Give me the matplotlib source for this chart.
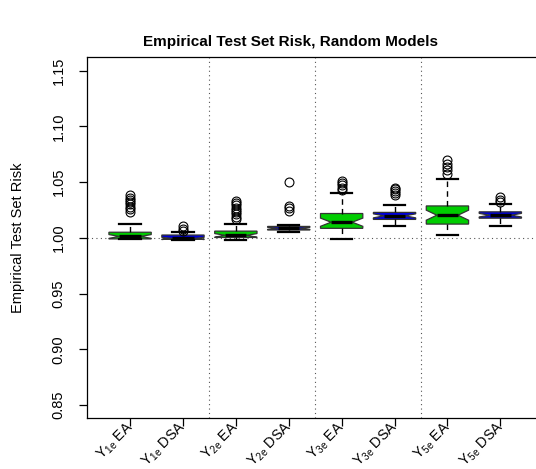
import matplotlib
matplotlib.use('Agg')
import matplotlib.pyplot as plt
from matplotlib.transforms import blended_transform_factory

plt.rcParams['font.family'] = ['Liberation Sans', 'DejaVu Sans']
plt.rcParams['mathtext.default'] = 'regular'

# ---- data ----
group_names = ['1e', '1e', '2e', '2e', '3e', '3e', '5e', '5e']
method_names = ['EA', 'DSA', 'EA', 'DSA', 'EA', 'DSA', 'EA', 'DSA']
whisker_low = [0.9985, 0.9982, 0.9982, 1.0050, 0.9985, 1.0107, 1.0024, 1.0107]
quart1 = [0.9990, 0.9988, 1.0003, 1.0070, 1.0085, 1.0165, 1.0123, 1.0176]
medians = [1.0012, 0.9994, 1.0022, 1.0085, 1.0140, 1.0197, 1.0203, 1.0203]
quart3 = [1.0050, 1.0025, 1.0060, 1.0102, 1.0218, 1.0228, 1.0286, 1.0233]
whisker_high = [1.0120, 1.0055, 1.0128, 1.0116, 1.0405, 1.0295, 1.0531, 1.0300]
notch_low = [0.9995, 0.9984, 1.0006, 1.0076, 1.0103, 1.0179, 1.0158, 1.0187]
notch_high = [1.0029, 1.0004, 1.0038, 1.0094, 1.0177, 1.0215, 1.0248, 1.0219]
outliers = [
    [1.023, 1.026, 1.028, 1.030, 1.032, 1.034, 1.036, 1.038],
    [1.0065, 1.0075, 1.0110],
    [1.0165, 1.019, 1.021, 1.023, 1.025, 1.027, 1.029, 1.031, 1.033],
    [1.0245, 1.0265, 1.0285, 1.0500],
    [1.043, 1.045, 1.047, 1.049, 1.051],
    [1.038, 1.0405, 1.042, 1.0435, 1.045],
    [1.0575, 1.0605, 1.0635, 1.0665, 1.0695],
    [1.032, 1.034, 1.0365],
]
method_colors = {'EA': '#00CD00', 'DSA': '#0000DD'}
y_ticks = [0.85, 0.90, 0.95, 1.00, 1.05, 1.10, 1.15]
separators = [2.5, 4.5, 6.5]

W, H = 536, 469
fig = plt.figure(figsize=(W / 100, H / 100), dpi=100)
ax = fig.add_axes([86.7 / W, (H - 418.3) / H, (543.7 - 86.7) / W, (418.3 - 57.3) / H])

stats = []
for i in range(len(medians)):
    stats.append(dict(whislo=whisker_low[i], q1=quart1[i], med=medians[i],
                      q3=quart3[i], whishi=whisker_high[i], fliers=outliers[i],
                      cilo=notch_low[i], cihi=notch_high[i], label=''))

positions = list(range(1, len(stats) + 1))
bp = ax.bxp(stats, positions=positions, widths=0.8, shownotches=True,
            patch_artist=True, capwidths=0.4, manage_ticks=False,
            boxprops=dict(edgecolor='#333333', linewidth=0.9),
            whiskerprops=dict(color='black', linewidth=1.0, linestyle=(0, (4, 3))),
            capprops=dict(color='black', linewidth=1.6),
            medianprops=dict(color='black', linewidth=2.4, solid_capstyle='butt'),
            flierprops=dict(marker='o', markersize=6.4, markerfacecolor='none',
                            markeredgecolor='black', markeredgewidth=0.8))
for patch, m in zip(bp['boxes'], method_names):
    patch.set_facecolor(method_colors[m])

for s in separators:
    ax.axvline(s, color='#555555', linewidth=0.8, linestyle=(0, (1, 3)), zorder=0)
ax.axhline(1.0, color='#555555', linewidth=0.8, linestyle=(0, (1, 3)), zorder=0)

ax.set_xlim(0.18, 8.82)
ax.set_ylim(0.838, 1.162)
ax.set_yticks(y_ticks)
ax.set_yticklabels([f'{v:.2f}' for v in y_ticks], rotation=90, va='center', fontsize=10.5)
ax.set_xticks(positions)
ax.set_xticklabels([])
ax.tick_params(axis='both', direction='out', length=6, width=0.9, color='black')
ax.tick_params(axis='y', pad=9)
for sp in ax.spines.values():
    sp.set_linewidth(0.9)

trans = blended_transform_factory(ax.transData, ax.transAxes)
for p, g, m in zip(positions, group_names, method_names):
    ax.text(p + 0.02, -0.018, f'Y$_{{{g}}}$ {m}', transform=trans, rotation=45,
            rotation_mode='anchor', ha='right', va='center', fontsize=10.2)

ax.set_ylabel('Empirical Test Set Risk', fontsize=10.5)
ax.yaxis.set_label_coords(-(86.7 - 25) / (543.7 - 86.7), 0.5)

fig.text(290.5 / W, 1 - 42 / H, 'Empirical Test Set Risk, Random Models',
         ha='center', va='center', fontsize=11, fontweight='bold')

fig.savefig('out.png', dpi=100)
